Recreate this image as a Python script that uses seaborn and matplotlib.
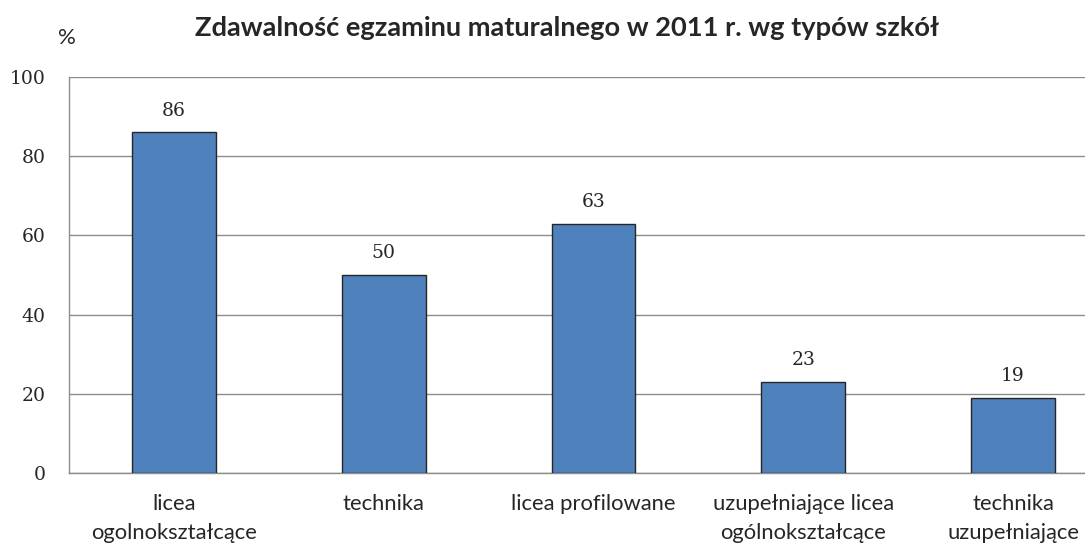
import matplotlib
matplotlib.use("Agg")
import matplotlib.pyplot as plt
import seaborn as sns
import pandas as pd

categories = [
    "licea\nogolnokształcące",
    "technika",
    "licea profilowane",
    "uzupełniające licea\nogólnokształcące",
    "technika\nuzupełniające",
]
values = [86, 50, 63, 23, 19]
y_ticks = [0, 20, 40, 60, 80, 100]

sns.set_theme(style="white")
plt.rcParams["font.family"] = ["Lato", "DejaVu Sans"]

df = pd.DataFrame({"typ": categories, "zdawalnosc": values})

fig = plt.figure(figsize=(10.85, 5.44), dpi=100)
ax = fig.add_axes([0.0636, 0.1305, 0.9668, 0.728])

sns.barplot(data=df, x="typ", y="zdawalnosc", color="#4F81BD", saturation=1,
            width=0.4, edgecolor="#262626", linewidth=1.0, ax=ax, zorder=3)

ax.set_ylim(0, 100)
ax.set_xlim(-0.5, len(categories) - 0.5)
ax.set_yticks(y_ticks)
ax.yaxis.grid(True, color="#8C8C8C", linewidth=1.0, zorder=0)
ax.set_axisbelow(True)

for side in ["top", "right"]:
    ax.spines[side].set_visible(False)
for side in ["left", "bottom"]:
    ax.spines[side].set_color("#8C8C8C")
    ax.spines[side].set_linewidth(1.0)

ax.set_xlabel("")
ax.set_ylabel("")
ax.tick_params(axis="y", length=0, pad=17)
ax.tick_params(axis="x", length=0, pad=15, labelsize=15.8)
for lbl in ax.get_yticklabels():
    lbl.set_family(["DejaVu Serif"])
    lbl.set_fontsize(13.5)
for lbl in ax.get_xticklabels():
    lbl.set_linespacing(1.55)

ax.bar_label(ax.containers[0], labels=[str(v) for v in values],
             padding=9, fontsize=13.5, family=["DejaVu Serif"])

fig.text(0.523, 0.948, "Zdawalność egzaminu maturalnego w 2011 r. wg typów szkół",
         ha="center", va="center", fontsize=19.6, fontweight="bold")
fig.text(0.062, 0.930, "%", ha="center", va="center", fontsize=16)

fig.savefig("out.png", dpi=100)
